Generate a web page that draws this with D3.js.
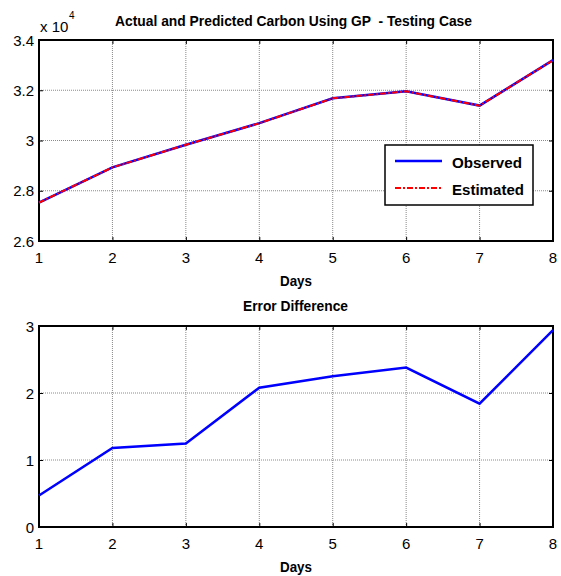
<!DOCTYPE html>
<html>
<head>
<meta charset="utf-8">
<script src="https://cdn.jsdelivr.net/npm/d3@7"></script>
<style>
  html, body { margin: 0; padding: 0; background: #fff; }
  svg { display: block; }
  text { font-family: "Liberation Sans", Arial, sans-serif; fill: #000; white-space: pre; }
</style>
</head>
<body>
<svg id="chart" width="561" height="576"></svg>
<script>
// ---- data ----
const days = [1, 2, 3, 4, 5, 6, 7, 8];
const observed = [27530, 28930, 29830, 30690, 31680, 31960, 31390, 33200];
const estimated = [27529.53, 28928.82, 29828.755, 30687.92, 31677.75, 31957.62, 31388.16, 33197.06];
const errorDiff = [0.47, 1.18, 1.245, 2.08, 2.25, 2.38, 1.84, 2.94];
const xTicks = [1, 2, 3, 4, 5, 6, 7, 8];
const yTicksTop = [2.6, 2.8, 3.0, 3.2, 3.4];
const yTickLabelsTop = ["2.6", "2.8", "3", "3.2", "3.4"];
const yTicksBottom = [0, 1, 2, 3];
const topTitle = "Actual and Predicted Carbon Using GP  - Testing Case";
const bottomTitle = "Error Difference";
const xLabel = "Days";
const legendLabels = ["Observed", "Estimated"];

const svg = d3.select("#chart");

function panel(opts) {
  const { left, right, top, bottom, yDomain, yTicks, yLabels } = opts;
  const x = d3.scaleLinear().domain([1, 8]).range([left, right]);
  const y = d3.scaleLinear().domain(yDomain).range([bottom, top]);
  const g = svg.append("g");

  // grid
  g.selectAll(".vgrid").data(xTicks.slice(1, -1)).enter().append("line")
    .attr("x1", d => x(d)).attr("x2", d => x(d))
    .attr("y1", top).attr("y2", bottom)
    .attr("stroke", "#8a8a8a").attr("stroke-width", 1).attr("stroke-dasharray", "1,1");
  g.selectAll(".hgrid").data(yTicks.slice(1, -1)).enter().append("line")
    .attr("x1", left).attr("x2", right)
    .attr("y1", d => y(d)).attr("y2", d => y(d))
    .attr("stroke", "#8a8a8a").attr("stroke-width", 1).attr("stroke-dasharray", "1,1");

  // axes via d3 axis (inner ticks)
  const tl = 4;
  const xb = d3.axisBottom(x).tickValues(xTicks).tickSize(-tl).tickFormat("");
  const xt = d3.axisTop(x).tickValues(xTicks).tickSize(-tl).tickFormat("");
  const yl = d3.axisLeft(y).tickValues(yTicks).tickSize(-tl).tickFormat("");
  const yr = d3.axisRight(y).tickValues(yTicks).tickSize(-tl).tickFormat("");
  [[xb, `translate(0,${bottom})`], [xt, `translate(0,${top})`],
   [yl, `translate(${left},0)`], [yr, `translate(${right},0)`]].forEach(([ax, tr]) => {
    const a = g.append("g").attr("transform", tr).call(ax);
    a.select(".domain").remove();
    a.selectAll(".tick line").attr("stroke", "#000").attr("stroke-width", 1);
  });

  // box
  g.append("rect").attr("x", left).attr("y", top)
    .attr("width", right - left).attr("height", bottom - top)
    .attr("fill", "none").attr("stroke", "#000").attr("stroke-width", 2);

  // tick labels
  g.selectAll(".xl").data(xTicks).enter().append("text")
    .attr("x", d => x(d)).attr("y", bottom + 22)
    .attr("text-anchor", "middle").attr("font-size", 15)
    .text(d => d);
  g.selectAll(".yl").data(yTicks).enter().append("text")
    .attr("x", left - 5).attr("y", d => y(d) + 5.5)
    .attr("text-anchor", "end").attr("font-size", 15)
    .text((d, i) => yLabels[i]);

  return { x, y, g };
}

// ---- top panel ----
const P1 = panel({ left: 39, right: 553, top: 40, bottom: 241,
  yDomain: [2.6, 3.4], yTicks: yTicksTop, yLabels: yTickLabelsTop });

const lineTop = d3.line().x((d, i) => P1.x(days[i])).y(d => P1.y(d / 1e4));
P1.g.append("path").datum(observed).attr("d", lineTop)
  .attr("fill", "none").attr("stroke", "#0000ff").attr("stroke-width", 2.5);
P1.g.append("path").datum(estimated).attr("d", lineTop)
  .attr("fill", "none").attr("stroke", "#ff0000").attr("stroke-width", 2)
  .attr("stroke-dasharray", "6,2,2,2");

// exponent label
svg.append("text").attr("x", 40).attr("y", 32).attr("font-size", 15).text("x 10");
svg.append("text").attr("x", 69).attr("y", 19).attr("font-size", 10).text("4");

// titles
svg.append("text").attr("x", 115).attr("y", 26).attr("font-size", 15).attr("font-weight", "bold")
  .attr("textLength", 357).attr("lengthAdjust", "spacingAndGlyphs").text(topTitle);
svg.append("text").attr("x", 280).attr("y", 286).attr("font-size", 15).attr("font-weight", "bold")
  .attr("textLength", 32).attr("lengthAdjust", "spacingAndGlyphs").text(xLabel);

// legend
const lg = svg.append("g");
lg.append("rect").attr("x", 385).attr("y", 145).attr("width", 148).attr("height", 60)
  .attr("fill", "#fff").attr("stroke", "#000").attr("stroke-width", 1.5);
lg.append("line").attr("x1", 395).attr("x2", 442).attr("y1", 161).attr("y2", 161)
  .attr("stroke", "#0000ff").attr("stroke-width", 2.5);
lg.append("line").attr("x1", 395).attr("x2", 442).attr("y1", 188).attr("y2", 188)
  .attr("stroke", "#ff0000").attr("stroke-width", 2).attr("stroke-dasharray", "6,2,2,2");
lg.append("text").attr("x", 452).attr("y", 168).attr("font-size", 15).attr("font-weight", "bold")
  .attr("textLength", 70).attr("lengthAdjust", "spacingAndGlyphs").text(legendLabels[0]);
lg.append("text").attr("x", 452).attr("y", 195).attr("font-size", 15).attr("font-weight", "bold")
  .attr("textLength", 72).attr("lengthAdjust", "spacingAndGlyphs").text(legendLabels[1]);

// ---- bottom panel ----
const P2 = panel({ left: 39, right: 553, top: 326, bottom: 527,
  yDomain: [0, 3], yTicks: yTicksBottom, yLabels: yTicksBottom.map(String) });

const lineBot = d3.line().x((d, i) => P2.x(days[i])).y(d => P2.y(d));
P2.g.append("path").datum(errorDiff).attr("d", lineBot)
  .attr("fill", "none").attr("stroke", "#0000ff").attr("stroke-width", 2.5);

svg.append("text").attr("x", 243).attr("y", 311).attr("font-size", 14.5).attr("font-weight", "bold")
  .attr("textLength", 105).attr("lengthAdjust", "spacingAndGlyphs").text(bottomTitle);
svg.append("text").attr("x", 280).attr("y", 572).attr("font-size", 15).attr("font-weight", "bold")
  .attr("textLength", 32).attr("lengthAdjust", "spacingAndGlyphs").text(xLabel);
</script>
</body>
</html>
